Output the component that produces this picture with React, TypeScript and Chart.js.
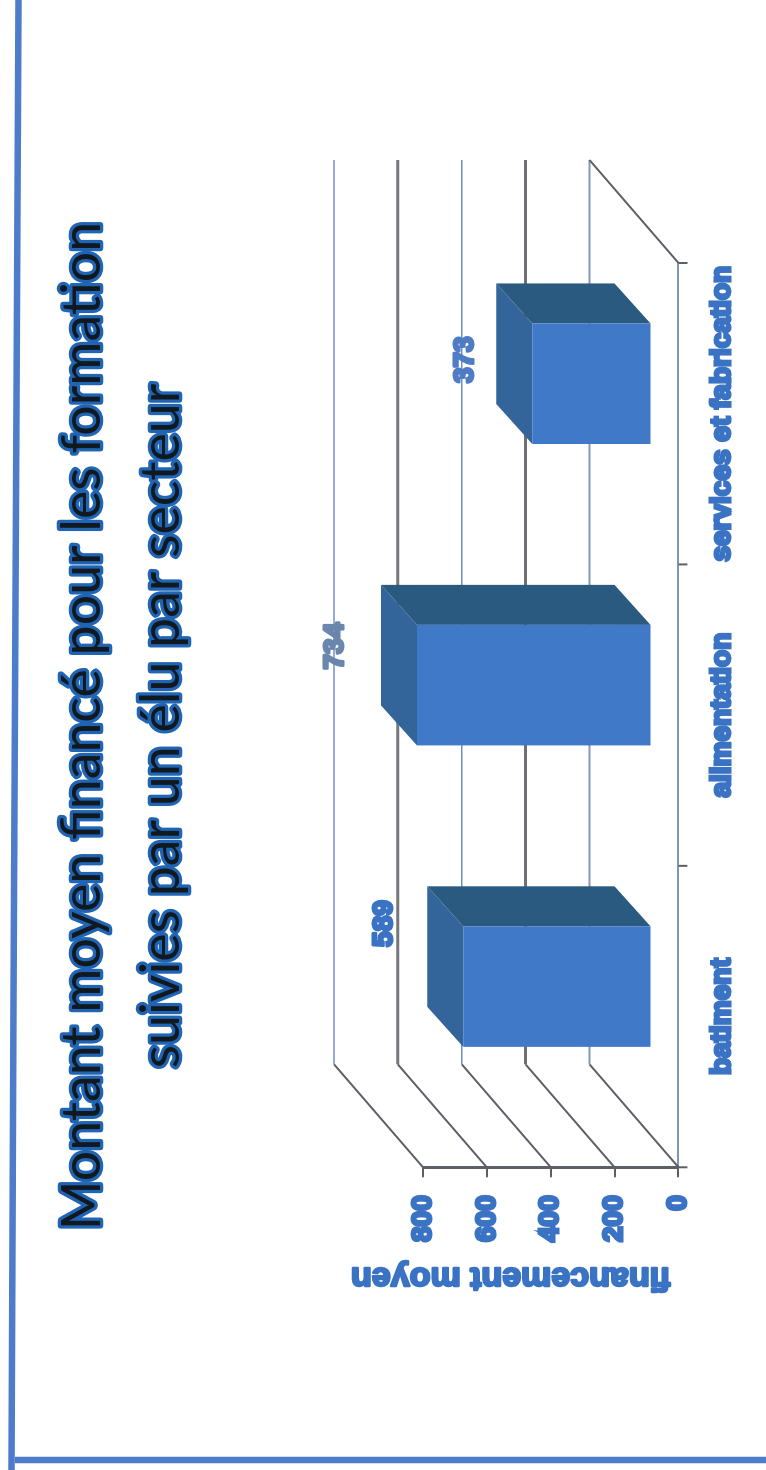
import React, { useEffect, useRef } from "react";
import { Chart, registerables } from "chart.js";

Chart.register(...registerables);

const categories = ["batiment", "alimentation", "services et fabrication"];
const financement = [589, 734, 373];
const titleLines = ["Montant moyen financé pour les formation", "suivies par un élu par secteur"];
const axisTitle = "financement moyen";

const WIDTH = 1470;
const HEIGHT = 766;
const BLUE = "#3b73c4";
const LABEL_FONT = "'Liberation Sans', Arial, sans-serif";
const TITLE_FONT = { family: "Lato, 'Open Sans', sans-serif", size: 53.7, weight: "normal", lineHeight: 79 / 53.7 };
const AXIS_TITLE_SIZE = 34;
const PAD_LEFT = 176;

// 3D geometry of the picture, in canvas pixels
const wallDepth = { x: 103, y: -89 };
const barShift = { x: 30, y: -27 };
const barDepth = { x: 40, y: -36 };
const labelShift = [{ x: 63, y: -79 }, { x: 39, y: -82 }, { x: 24, y: -67 }];
const labelColors = ["#3b73c4", "#6b86ad", "#4f7cc4"];
const wallLineColors = ["#8498b8", "#6d7074", "#6a8fc8", "#74777b", "#6f92c8"];
const wallLineWidths = [2, 3, 1.5, 3, 1.5];

const scene3d = {
  id: "scene3d",
  afterLayout(chart: any) {
    // the title is centred on the whole slide, not on the plot
    chart.titleBlock.left = 0;
    chart.titleBlock.right = 1488;
  },
  beforeDraw(chart: any) {
    const { ctx, scales } = chart;
    ctx.save();
    // slide frame
    ctx.strokeStyle = "#4d7cca";
    ctx.lineCap = "butt";
    ctx.lineWidth = 6.5;
    ctx.beginPath();
    ctx.moveTo(1470, 18.5);
    ctx.lineTo(470, 13.5);
    ctx.lineTo(0, 11.5);
    ctx.moveTo(10, 9);
    ctx.lineTo(10, 766);
    ctx.stroke();
    // outline under the title text
    const t = chart.titleBlock;
    const lh = TITLE_FONT.size * TITLE_FONT.lineHeight;
    ctx.font = `${TITLE_FONT.size}px ${TITLE_FONT.family}`;
    ctx.textAlign = "center";
    ctx.textBaseline = "middle";
    ctx.lineJoin = "round";
    ctx.strokeStyle = "#2064b4";
    ctx.lineWidth = 6.5;
    titleLines.forEach((line, i) => {
      ctx.strokeText(line, (t.left + t.right) / 2, t.top + t.options.padding.top + lh / 2 + i * lh);
    });
    // axis title, aligned with the floor of the 3D wall
    ctx.translate(PAD_LEFT + AXIS_TITLE_SIZE / 2, scales.y.bottom - 8);
    ctx.rotate(-Math.PI / 2);
    ctx.font = `bold ${AXIS_TITLE_SIZE}px ${LABEL_FONT}`;
    ctx.textAlign = "left";
    ctx.strokeStyle = BLUE;
    ctx.fillStyle = BLUE;
    ctx.lineWidth = 2.5;
    ctx.strokeText(axisTitle, 0, 0);
    ctx.fillText(axisTitle, 0, 0);
    ctx.restore();
  },
  beforeDatasetsDraw(chart: any) {
    const { ctx, scales } = chart;
    const yScale = scales.y;
    const xScale = scales.x;
    ctx.save();
    // wall lines
    yScale.ticks.forEach((tick: any, i: number) => {
      const y = yScale.getPixelForValue(tick.value);
      ctx.beginPath();
      ctx.moveTo(xScale.left, y);
      ctx.lineTo(xScale.left + wallDepth.x, y + wallDepth.y);
      ctx.strokeStyle = "#5c6066";
      ctx.lineWidth = 2;
      ctx.stroke();
      ctx.beginPath();
      ctx.moveTo(xScale.left + wallDepth.x, y + wallDepth.y);
      ctx.lineTo(xScale.right + wallDepth.x, y + wallDepth.y);
      ctx.strokeStyle = wallLineColors[i];
      ctx.lineWidth = wallLineWidths[i];
      ctx.stroke();
    });
    // floor edge
    const floorY = yScale.getPixelForValue(0);
    ctx.beginPath();
    ctx.moveTo(xScale.right, floorY);
    ctx.lineTo(xScale.right + wallDepth.x, floorY + wallDepth.y);
    ctx.strokeStyle = "#5c6066";
    ctx.lineWidth = 2;
    ctx.stroke();
    ctx.restore();

    ctx.save();
    ctx.translate(barShift.x, barShift.y);
    chart.getDatasetMeta(0).data.forEach((bar: any) => {
      const l = bar.x - bar.width / 2;
      const r = bar.x + bar.width / 2;
      // top face
      ctx.fillStyle = "#33659b";
      ctx.beginPath();
      ctx.moveTo(l, bar.y);
      ctx.lineTo(l + barDepth.x, bar.y + barDepth.y);
      ctx.lineTo(r + barDepth.x, bar.y + barDepth.y);
      ctx.lineTo(r, bar.y);
      ctx.closePath();
      ctx.fill();
      // side face
      ctx.fillStyle = "#2b5a80";
      ctx.beginPath();
      ctx.moveTo(r, bar.y);
      ctx.lineTo(r + barDepth.x, bar.y + barDepth.y);
      ctx.lineTo(r + barDepth.x, bar.base + barDepth.y);
      ctx.lineTo(r, bar.base);
      ctx.closePath();
      ctx.fill();
    });
  },
  afterDatasetsDraw(chart: any) {
    const { ctx } = chart;
    ctx.restore();
    ctx.save();
    ctx.font = `bold 28px ${LABEL_FONT}`;
    ctx.textAlign = "center";
    ctx.textBaseline = "middle";
    ctx.lineWidth = 3;
    ctx.lineJoin = "round";
    chart.getDatasetMeta(0).data.forEach((bar: any, i: number) => {
      const x = bar.x + barShift.x + labelShift[i].x;
      const y = bar.y + barShift.y + labelShift[i].y;
      ctx.fillStyle = labelColors[i];
      ctx.strokeStyle = labelColors[i];
      ctx.strokeText(String(financement[i]), x, y);
      ctx.fillText(String(financement[i]), x, y);
    });
    // category tick marks on the category boundaries
    const xScale = chart.scales.x;
    const step = (xScale.right - xScale.left) / categories.length;
    ctx.strokeStyle = "#5c6066";
    ctx.lineWidth = 2;
    categories.concat("").forEach((_, i) => {
      const x = xScale.getPixelForValue(i) - step / 2;
      ctx.beginPath();
      ctx.moveTo(x, xScale.top);
      ctx.lineTo(x, xScale.top + 9);
      ctx.stroke();
    });
    ctx.restore();
  },
};

export default function App() {
  const ref = useRef<HTMLCanvasElement>(null);
  useEffect(() => {
    const chart = new Chart(ref.current!, {
      type: "bar",
      data: {
        labels: categories,
        datasets: [
          {
            label: axisTitle,
            data: financement,
            backgroundColor: "#4079c8",
            barPercentage: 0.4,
            categoryPercentage: 1,
            clip: false,
          } as any,
        ],
      },
      plugins: [scene3d],
      options: {
        animation: false,
        responsive: false,
        layout: { padding: { left: PAD_LEFT + AXIS_TITLE_SIZE, right: 263, top: 0, bottom: 10 } },
        plugins: {
          legend: { display: false },
          tooltip: { enabled: false },
          title: {
            display: true,
            text: titleLines,
            color: "#101820",
            font: TITLE_FONT,
            padding: { top: 43.5, bottom: 221.5 },
          },
        },
        scales: {
          x: {
            grid: { display: false, tickLength: 10 },
            border: { color: "#7f95b5", width: 2 },
            ticks: {
              color: BLUE,
              font: { family: LABEL_FONT, size: 28, weight: "bold" },
              textStrokeColor: BLUE,
              textStrokeWidth: 3,
              padding: 17,
              maxRotation: 0,
              autoSkip: false,
            },
          },
          y: {
            min: 0,
            max: 800,
            ticks: {
              stepSize: 200,
              color: BLUE,
              font: { family: LABEL_FONT, size: 28, weight: "bold" },
              textStrokeColor: BLUE,
              textStrokeWidth: 3,
              padding: 18,
            },
            grid: { drawOnChartArea: false, color: "#5c6066", lineWidth: 2, tickLength: 10 },
            border: { color: "#5c6066", width: 3 },
          },
        },
      },
    } as any);
    return () => chart.destroy();
  }, []);
  return (
    <canvas
      ref={ref}
      width={WIDTH}
      height={HEIGHT}
      style={{
        position: "absolute",
        left: 0,
        top: 0,
        width: WIDTH,
        height: HEIGHT,
        display: "block",
        transformOrigin: "0 0",
        transform: `translateY(${WIDTH}px) rotate(-90deg)`,
      }}
    />
  );
}
